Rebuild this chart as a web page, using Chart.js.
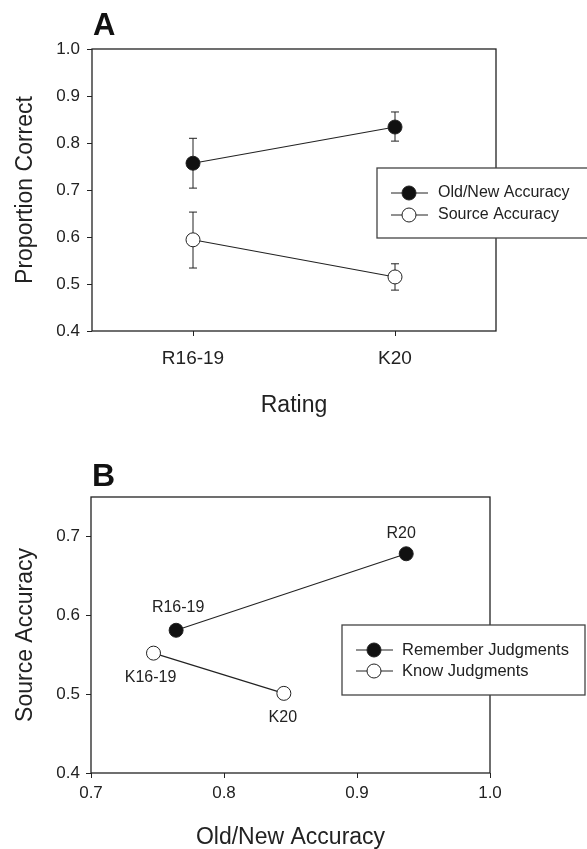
<!DOCTYPE html>
<html>
<head>
<meta charset="utf-8">
<script src="https://cdn.jsdelivr.net/npm/chart.js@4"></script>
<style>
  body { margin: 0; background: #fff; }
  canvas { display: block; }
</style>
</head>
<body>
<canvas id="chartA" width="587" height="430"></canvas>
<canvas id="chartB" width="587" height="419"></canvas>
<script>
// Panel A: means and error bar ends
const ratingLabels = ["R16-19", "K20"];
const oldNewMean = [0.757, 0.834];
const oldNewUpper = [0.81, 0.866];
const oldNewLower = [0.704, 0.804];
const sourceMean = [0.594, 0.515];
const sourceUpper = [0.653, 0.543];
const sourceLower = [0.534, 0.487];
const yTicksA = [0.4, 0.5, 0.6, 0.7, 0.8, 0.9, 1.0];

// Panel B: old/new accuracy (x) against source accuracy (y)
const rememberX = [0.764, 0.937];
const rememberY = [0.581, 0.678];
const rememberLabels = ["R16-19", "R20"];
const knowX = [0.747, 0.845];
const knowY = [0.552, 0.501];
const knowLabels = ["K16-19", "K20"];
const xTicksB = [0.7, 0.8, 0.9, 1.0];
const yTicksB = [0.4, 0.5, 0.6, 0.7];

const FONT = "'Liberation Sans', Arial, sans-serif";
const INK = "#222";

Chart.defaults.font.family = FONT;
Chart.defaults.color = INK;

// marco alrededor del area del grafico
const boxFrame = {
  id: "boxFrame",
  beforeDatasetsDraw(chart) {
    const { ctx, chartArea: a } = chart;
    ctx.save();
    ctx.strokeStyle = INK;
    ctx.lineWidth = 1.3;
    ctx.strokeRect(a.left, a.top, a.right - a.left, a.bottom - a.top);
    ctx.restore();
  },
};

// barras de error (se dibujan antes de los puntos)
const errorBars = {
  id: "errorBars",
  beforeDatasetsDraw(chart) {
    const { ctx } = chart;
    const yScale = chart.scales.y;
    ctx.save();
    ctx.strokeStyle = INK;
    ctx.lineWidth = 1;
    chart.data.datasets.forEach((ds, i) => {
      if (!ds.errUpper) return;
      const meta = chart.getDatasetMeta(i);
      meta.data.forEach((pt, j) => {
        const yUp = yScale.getPixelForValue(ds.errUpper[j]);
        const yLo = yScale.getPixelForValue(ds.errLower[j]);
        ctx.beginPath();
        ctx.moveTo(pt.x, yUp);
        ctx.lineTo(pt.x, yLo);
        ctx.moveTo(pt.x - 4, yUp);
        ctx.lineTo(pt.x + 4, yUp);
        ctx.moveTo(pt.x - 4, yLo);
        ctx.lineTo(pt.x + 4, yLo);
        ctx.stroke();
      });
    });
    ctx.restore();
  },
};

// etiquetas junto a los puntos (panel B)
const pointLabels = {
  id: "pointLabels",
  afterDatasetsDraw(chart) {
    const { ctx } = chart;
    ctx.save();
    ctx.font = "16px " + FONT;
    ctx.fillStyle = INK;
    ctx.textAlign = "center";
    ctx.textBaseline = "middle";
    chart.data.datasets.forEach((ds, i) => {
      if (!ds.pointText) return;
      const meta = chart.getDatasetMeta(i);
      meta.data.forEach((pt, j) => {
        const off = ds.pointOffsets[j];
        ctx.fillText(ds.pointText[j], pt.x + off[0], pt.y + off[1]);
      });
    });
    ctx.restore();
  },
};

// leyenda con caja, linea y marcador
const boxLegend = {
  id: "boxLegend",
  afterDraw(chart, args, opts) {
    if (!opts.box) return;
    const { ctx } = chart;
    const b = opts.box;
    ctx.save();
    ctx.fillStyle = "#fff";
    ctx.fillRect(b.left, b.top, b.right - b.left, b.bottom - b.top);
    ctx.strokeStyle = "#444";
    ctx.lineWidth = 1.3;
    ctx.strokeRect(b.left, b.top, b.right - b.left, b.bottom - b.top);
    ctx.font = opts.fontSize + "px " + FONT;
    ctx.textBaseline = "middle";
    ctx.textAlign = "left";
    chart.data.datasets.forEach((ds, i) => {
      const y = opts.rowY[i];
      ctx.strokeStyle = INK;
      ctx.lineWidth = 1;
      ctx.beginPath();
      ctx.moveTo(opts.lineX0, y);
      ctx.lineTo(opts.lineX1, y);
      ctx.stroke();
      ctx.beginPath();
      ctx.arc(opts.markerX, y, 7, 0, Math.PI * 2);
      ctx.fillStyle = ds.pointBackgroundColor;
      ctx.fill();
      ctx.stroke();
      ctx.fillStyle = INK;
      ctx.fillText(ds.label, opts.textX, y);
    });
    ctx.restore();
  },
};

// letra del panel
const panelLetter = {
  id: "panelLetter",
  afterDraw(chart, args, opts) {
    if (!opts.text) return;
    const { ctx, chartArea } = chart;
    ctx.save();
    ctx.font = "bold " + opts.size + "px " + FONT;
    ctx.fillStyle = "#111";
    ctx.textBaseline = "alphabetic";
    ctx.fillText(opts.text, chartArea.left + 1, opts.baseline);
    ctx.restore();
  },
};

let gridComun = {
  drawOnChartArea: false,
  drawTicks: true,
  tickLength: 5,
  color: INK,
  lineWidth: 1,
};

let datasetComun = {
  borderColor: INK,
  borderWidth: 1.1,
  pointRadius: 7,
  pointHoverRadius: 7,
  pointBorderWidth: 1,
  pointBorderColor: INK,
  fill: false,
  tension: 0,
};

// Grafico A
new Chart(document.getElementById("chartA"), {
  type: "line",
  data: {
    labels: ratingLabels,
    datasets: [
      {
        ...datasetComun,
        label: "Old/New Accuracy",
        data: oldNewMean,
        pointBackgroundColor: "#111",
        errUpper: oldNewUpper,
        errLower: oldNewLower,
      },
      {
        ...datasetComun,
        label: "Source Accuracy",
        data: sourceMean,
        pointBackgroundColor: "#fff",
        errUpper: sourceUpper,
        errLower: sourceLower,
      },
    ],
  },
  options: {
    responsive: false,
    animation: false,
    devicePixelRatio: 1,
    layout: { padding: { top: 49, right: 91, bottom: 7, left: 0 } },
    plugins: {
      legend: { display: false },
      tooltip: { enabled: false },
      boxLegend: {
        box: { left: 377, top: 168, right: 592, bottom: 238 },
        lineX0: 391,
        lineX1: 428,
        markerX: 409,
        textX: 438,
        rowY: [193, 215],
        fontSize: 16,
      },
      panelLetter: { text: "A", size: 31, baseline: 35 },
    },
    scales: {
      x: {
        type: "category",
        offset: true,
        grid: { ...gridComun },
        border: { display: false },
        ticks: { font: { size: 19 }, padding: 11, color: INK },
        title: {
          display: true,
          text: "Rating",
          font: { size: 23 },
          padding: { top: 0, bottom: 4 },
          color: INK,
        },
        afterFit: (s) => { s.height = 92; },
      },
      y: {
        min: 0.4,
        max: 1.0,
        grid: { ...gridComun },
        border: { display: false },
        afterBuildTicks: (s) => { s.ticks = yTicksA.map((v) => ({ value: v })); },
        ticks: {
          font: { size: 17 },
          padding: 7,
          color: INK,
          callback: (v) => Number(v).toFixed(1),
        },
        title: {
          display: true,
          text: "Proportion Correct",
          font: { size: 23 },
          padding: { top: 12, bottom: 0 },
          color: INK,
        },
        afterFit: (s) => { s.width = 92; },
      },
    },
  },
  plugins: [boxFrame, errorBars, boxLegend, panelLetter],
});

// Grafico B
new Chart(document.getElementById("chartB"), {
  type: "scatter",
  data: {
    datasets: [
      {
        ...datasetComun,
        showLine: true,
        label: "Remember Judgments",
        data: rememberX.map((x, i) => ({ x, y: rememberY[i] })),
        pointBackgroundColor: "#111",
        pointText: rememberLabels,
        pointOffsets: [[2, -23], [-5, -20]],
      },
      {
        ...datasetComun,
        showLine: true,
        label: "Know Judgments",
        data: knowX.map((x, i) => ({ x, y: knowY[i] })),
        pointBackgroundColor: "#fff",
        pointText: knowLabels,
        pointOffsets: [[-3, 24], [-1, 24]],
      },
    ],
  },
  options: {
    responsive: false,
    animation: false,
    devicePixelRatio: 1,
    layout: { padding: { top: 67, right: 97, bottom: 0, left: 0 } },
    plugins: {
      legend: { display: false },
      tooltip: { enabled: false },
      boxLegend: {
        box: { left: 342, top: 195, right: 585, bottom: 265 },
        lineX0: 356,
        lineX1: 393,
        markerX: 374,
        textX: 402,
        rowY: [220, 241],
        fontSize: 16.5,
      },
      panelLetter: { text: "B", size: 32, baseline: 56 },
    },
    scales: {
      x: {
        type: "linear",
        min: 0.7,
        max: 1.0,
        grid: { ...gridComun },
        border: { display: false },
        afterBuildTicks: (s) => { s.ticks = xTicksB.map((v) => ({ value: v })); },
        ticks: {
          font: { size: 17 },
          padding: 5,
          color: INK,
          callback: (v) => Number(v).toFixed(1),
        },
        title: {
          display: true,
          text: "Old/New Accuracy",
          font: { size: 23, lineHeight: 1 },
          padding: { top: 0, bottom: 0 },
          color: INK,
        },
        afterFit: (s) => { s.height = 76; },
      },
      y: {
        min: 0.4,
        max: 0.75,
        grid: { ...gridComun },
        border: { display: false },
        afterBuildTicks: (s) => { s.ticks = yTicksB.map((v) => ({ value: v })); },
        ticks: {
          font: { size: 17 },
          padding: 6,
          color: INK,
          callback: (v) => Number(v).toFixed(1),
        },
        title: {
          display: true,
          text: "Source Accuracy",
          font: { size: 23 },
          padding: { top: 12, bottom: 0 },
          color: INK,
        },
        afterFit: (s) => { s.width = 91; },
      },
    },
  },
  plugins: [boxFrame, pointLabels, boxLegend, panelLetter],
});
</script>
</body>
</html>
